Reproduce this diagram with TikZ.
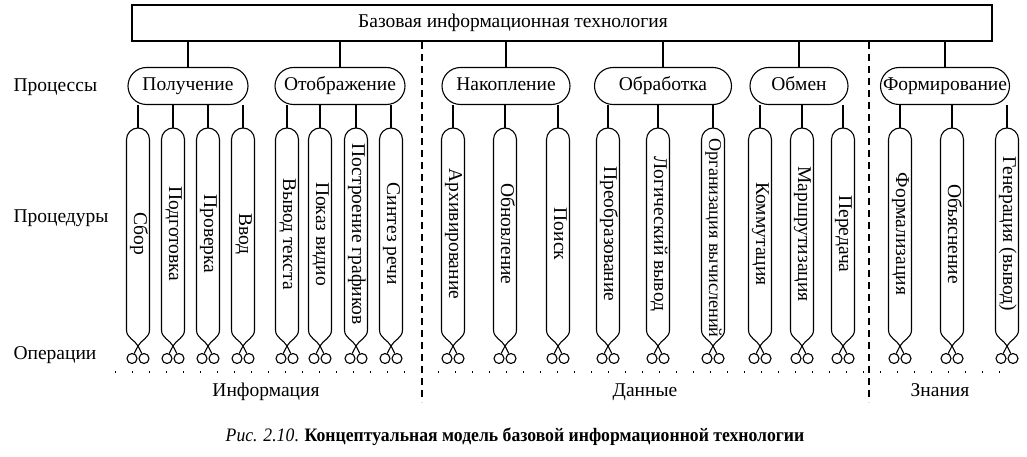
\documentclass[tikz,border=0pt]{standalone}
\usepackage{fontspec}
\setmainfont{Liberation Serif}
\usetikzlibrary{shapes.misc}
\tikzset{
  every picture/.style={line width=1.1pt},
  lbl/.style={font=\fontsize{19.5}{21}\selectfont, inner sep=0pt, text height=13pt, text depth=4pt},
  proc/.style={draw, rounded rectangle, minimum height=37pt, inner sep=0pt, text height=13pt, text depth=4pt, font=\fontsize{19.5}{21}\selectfont},
  proctext/.style={rotate=-90, inner sep=0pt, text height=13pt, text depth=4pt, font=\fontsize{19.5}{21}\selectfont},
  basebox/.style={draw, rectangle, inner sep=0pt},
  sep/.style={dash pattern=on 7pt off 5pt},
  dotline/.style={line width=1.3pt, dash pattern=on 1.3pt off 15.7pt}
}
\newcommand\ProcPill[4][234]{%
  \coordinate (#3) at (#2,128);
  \draw[rounded corners=11.5pt] (#2-11.5,330) -- (#2-11.5,128) -- (#2+11.5,128) -- (#2+11.5,330);
  \draw (#2+3.8,353.5) -- (#2,346) .. controls (#2-3,340) and (#2-11.5,338) .. (#2-11.5,330);
  \draw (#2-3.8,353.5) -- (#2,346) .. controls (#2+3,340) and (#2+11.5,338) .. (#2+11.5,330);
  \draw (#2-6,358.5) circle (5pt) (#2+6,358.5) circle (5pt);
  \node[proctext] (#3-t) at (#2+0.5,#1) {#4};
}
\begin{document}
\begin{tikzpicture}[x=1pt,y=-1pt]
\useasboundingbox (0,0) rectangle (1027,457);
% top box
\node[basebox, minimum width=860pt, minimum height=36pt] (base) at (562,23) {};
\node[lbl] (title) at (513,23) {Базовая информационная технология};
% row labels
\node[lbl, anchor=west] (lp) at (13,87) {Процессы};
\node[lbl, anchor=west] (lpr) at (13,218) {Процедуры};
\node[lbl, anchor=west] (lo) at (13,355) {Операции};
% processes
\node[proc, minimum width=120pt] (pol) at (188,86) {Получение};
\node[proc, minimum width=130pt] (oto) at (340,86) {Отображение};
\node[proc, minimum width=128pt] (nak) at (506,86) {Накопление};
\node[proc, minimum width=137pt] (obr) at (663,86) {Обработка};
\node[proc, minimum width=98pt] (obm) at (799,86) {Обмен};
\node[proc, minimum width=129pt] (frm) at (945,86) {Формирование};
\foreach \n in {pol,oto,nak,obr,obm,frm}
  \draw (\n.north) -- (\n.north |- base.south);
% procedures
\ProcPill{138}{p1}{Сбор}
\ProcPill{173}{p2}{Подготовка}
\ProcPill{208}{p3}{Проверка}
\ProcPill{243}{p4}{Ввод}
\ProcPill{287}{p5}{Вывод текста}
\ProcPill{320}{p6}{Показ видио}
\ProcPill{356}{p7}{Построение графиков}
\ProcPill{391}{p8}{Синтез речи}
\ProcPill{453}{p9}{Архивирование}
\ProcPill{505}{p10}{Обновление}
\ProcPill{558}{p11}{Поиск}
\ProcPill{608}{p12}{Преобразование}
\ProcPill{658}{p13}{Логический вывод}
\ProcPill[238]{713}{p14}{\fontsize{18.2}{20}\selectfont Организация вычислений}
\ProcPill{760}{p15}{Коммутация}
\ProcPill{802}{p16}{Маршрутизация}
\ProcPill{843}{p17}{Передача}
\ProcPill{900}{p18}{Формализация}
\ProcPill{952}{p19}{Объяснение}
\ProcPill{1007}{p20}{Генерация (вывод)}
\foreach \n/\p in {pol/p1,pol/p2,pol/p3,pol/p4,oto/p5,oto/p6,oto/p7,oto/p8,nak/p9,nak/p10,nak/p11,obr/p12,obr/p13,obr/p14,obm/p15,obm/p16,obm/p17,frm/p18,frm/p19,frm/p20}
  \draw (\p |- \n.south) -- (\p);
% separators
\coordinate (d1a) at (422,42); \coordinate (d1b) at (422,402);
\coordinate (d2a) at (869,42); \coordinate (d2b) at (869,402);
\draw[sep] (d1a) -- (d1b);
\draw[sep] (d2a) -- (d2b);
\coordinate (dota) at (115,372); \coordinate (dotb) at (1012,372);
\draw[dotline] (dota) -- (dotb);
% bottom labels
\node[lbl] (inf) at (266,392) {Информация};
\node[lbl] (dan) at (645,392) {Данные};
\node[lbl] (zna) at (940,392) {Знания};
% caption
\node[lbl] (cap) at (515,437) {\scalebox{0.93}[1]{\fontsize{19}{21}\selectfont\textit{Рис. 2.10}. \textbf{Концептуальная модель базовой информационной технологии}}};
\end{tikzpicture}
\end{document}
